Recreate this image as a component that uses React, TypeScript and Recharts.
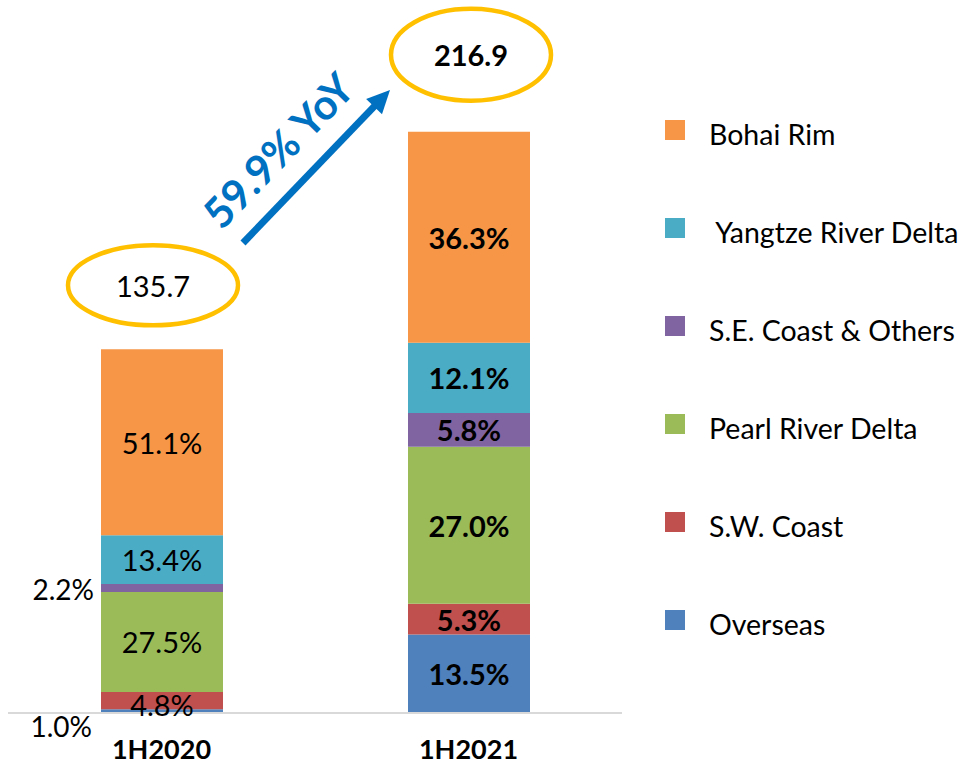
import { BarChart, Bar, XAxis, YAxis, LabelList } from 'recharts';

document.body.style.margin = '0';

const FONT = 'Lato, "Open Sans", sans-serif';

const periods = ['1H2020', '1H2021'];
const totals = [135.7, 216.9];
const yoyLabel = '59.9% YoY';

// share of total, %
const overseas = [1.0, 13.5];
const swCoast = [4.8, 5.3];
const pearlRiver = [27.5, 27.0];
const seCoast = [2.2, 5.8];
const yangtze = [13.4, 12.1];
const bohai = [51.1, 36.3];

const series = [
  { key: 'overseas', name: 'Overseas', color: '#4F81BD', shares: overseas },
  { key: 'sw', name: 'S.W. Coast', color: '#C0504D', shares: swCoast },
  { key: 'pearl', name: 'Pearl River Delta', color: '#9BBB59', shares: pearlRiver },
  { key: 'se', name: 'S.E. Coast & Others', color: '#8064A2', shares: seCoast },
  { key: 'yangtze', name: ' Yangtze River Delta', color: '#4BACC6', shares: yangtze },
  { key: 'bohai', name: 'Bohai Rim', color: '#F79646', shares: bohai },
];

const rows = periods.map((p, i) => {
  const row: Record<string, number | string> = { period: p, total: totals[i] };
  series.forEach((s) => {
    row[s.key] = (s.shares[i] * totals[i]) / 100;
  });
  return row;
});

// labels that sit outside the bar (1H2020 small slices)
const outside: Record<string, { dx: number; dy: number }> = {
  'se-0': { dx: -7, dy: 1 },
  'overseas-0': { dx: -9, dy: 15 },
};

function makeShareLabel(key: string, shares: number[]) {
  return (props: any) => {
    const { x, y, width, height, index } = props;
    const txt = `${shares[index].toFixed(1)}%`;
    const bold = index === 1;
    const out = outside[`${key}-${index}`];
    if (out) {
      return (
        <text
          x={x + out.dx}
          y={y + height / 2 + out.dy}
          textAnchor="end"
          dominantBaseline="central"
          fontFamily={FONT}
          fontSize={28}
          fill="#000"
        >
          {txt}
        </text>
      );
    }
    return (
      <text
        x={x + width / 2}
        y={y + height / 2 + (key === 'sw' && index === 0 ? 4 : 0)}
        textAnchor="middle"
        dominantBaseline="central"
        fontFamily={FONT}
        fontSize={29}
        fontWeight={bold ? 700 : 400}
        fill="#000"
      >
        {txt}
      </text>
    );
  };
}

const bubble = [
  { dx: -9, dy: 64, rx: 85, ry: 40 },
  { dx: 2, dy: 77, rx: 80, ry: 46 },
];

function TotalBubble(props: any) {
  const { x, y, width, index } = props;
  const b = bubble[index];
  const cx = x + width / 2 + b.dx;
  const cy = y - b.dy;
  return (
    <g>
      <ellipse cx={cx} cy={cy} rx={b.rx} ry={b.ry} fill="#fff" stroke="#FFC000" strokeWidth={4.5} />
      <text
        x={cx}
        y={cy}
        textAnchor="middle"
        dominantBaseline="central"
        fontFamily={FONT}
        fontSize={29}
        fontWeight={index === 1 ? 700 : 400}
        fill="#000"
      >
        {totals[index].toFixed(1)}
      </text>
    </g>
  );
}

function PeriodTick(props: any) {
  const { x, y, payload } = props;
  return (
    <text
      x={x}
      y={y + 27}
      textAnchor="middle"
      dominantBaseline="central"
      fontFamily={FONT}
      fontSize={27}
      fontWeight={700}
      fill="#000"
    >
      {payload.value}
    </text>
  );
}

function YoyArrow() {
  const x1 = 243;
  const y1 = 243;
  const x2 = 390;
  const y2 = 90;
  const ang = Math.atan2(y2 - y1, x2 - x1);
  const head = 23;
  const half = 11;
  const bx = x2 - head * Math.cos(ang);
  const by = y2 - head * Math.sin(ang);
  const px = -Math.sin(ang);
  const py = Math.cos(ang);
  return (
    <svg width={964} height={769} style={{ position: 'absolute', left: 0, top: 0, pointerEvents: 'none' }}>
      <line x1={x1} y1={y1} x2={bx + 2 * Math.cos(ang)} y2={by + 2 * Math.sin(ang)} stroke="#0070C0" strokeWidth={7} />
      <polygon
        points={`${x2},${y2} ${bx + px * half},${by + py * half} ${bx - px * half},${by - py * half}`}
        fill="#0070C0"
      />
      <text
        x={278}
        y={150}
        textAnchor="middle"
        dominantBaseline="central"
        transform="rotate(-46 278 150)"
        fontFamily={FONT}
        fontSize={42}
        fontWeight={700}
        fill="#0070C0"
      >
        {yoyLabel}
      </text>
    </svg>
  );
}

function LegendBox() {
  const items = [...series].reverse();
  return (
    <div style={{ position: 'absolute', left: 665, top: 120, fontFamily: FONT }}>
      {items.map((s, i) => (
        <div
          key={s.key}
          style={{ position: 'absolute', left: 0, top: i * 97.9, display: 'flex', alignItems: 'center', height: 20 }}
        >
          <div style={{ width: 20, height: 20, background: s.color }} />
          <span
            style={{
              marginLeft: 24,
              fontSize: 28.5,
              whiteSpace: 'pre',
              color: '#000',
              lineHeight: '20px',
              position: 'relative',
              top: 4,
            }}
          >
            {s.name}
          </span>
        </div>
      ))}
    </div>
  );
}

export default function App() {
  return (
    <div style={{ position: 'relative', width: 964, height: 769, background: '#fff', overflow: 'hidden' }}>
      <BarChart width={964} height={769} data={rows} margin={{ top: 43, right: 342, left: 8, bottom: 0 }}>
        <XAxis
          dataKey="period"
          axisLine={{ stroke: '#D9D9D9', strokeWidth: 2 }}
          tickLine={false}
          tick={<PeriodTick />}
          height={56}
          interval={0}
        />
        <YAxis hide domain={[0, 250]} />
        {series.map((s) => (
          <Bar key={s.key} dataKey={s.key} stackId="a" fill={s.color} barSize={122} isAnimationActive={false}>
            <LabelList dataKey={s.key} content={makeShareLabel(s.key, s.shares)} />
            {s.key === 'bohai' && <LabelList dataKey="total" content={TotalBubble} />}
          </Bar>
        ))}
      </BarChart>
      <YoyArrow />
      <LegendBox />
    </div>
  );
}
